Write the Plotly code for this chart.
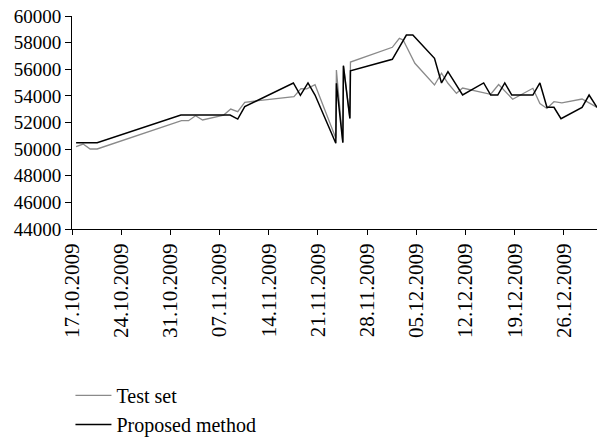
import plotly.graph_objects as go

# Test set (grey)
test_dates = [
    "2009-10-17 14:00", "2009-10-18 14:00", "2009-10-19 14:00", "2009-10-20 14:00",
    "2009-11-01 14:00", "2009-11-02 14:00", "2009-11-03 14:00", "2009-11-04 14:00",
    "2009-11-07 14:00", "2009-11-08 14:00", "2009-11-09 14:00", "2009-11-10 14:00",
    "2009-11-17 14:00", "2009-11-18 14:00", "2009-11-19 10:00", "2009-11-20 14:00",
    "2009-11-23 13:00", "2009-11-23 15:00", "2009-11-24 13:00", "2009-11-24 15:00",
    "2009-11-25 13:00", "2009-11-25 15:00",
    "2009-12-01 14:00", "2009-12-02 14:00", "2009-12-03 03:00", "2009-12-04 19:00",
    "2009-12-07 14:00", "2009-12-08 14:00", "2009-12-09 12:00", "2009-12-10 17:00",
    "2009-12-11 14:00", "2009-12-15 14:00", "2009-12-16 17:00", "2009-12-18 17:00",
    "2009-12-21 14:00", "2009-12-22 14:00", "2009-12-23 14:00", "2009-12-24 14:00",
    "2009-12-25 17:00", "2009-12-28 14:00", "2009-12-30 17:00",
]
test_values = [
    50180, 50380, 50010, 50010,
    52135, 52135, 52510, 52190,
    52560, 53010, 52810, 53520,
    53940, 54540, 54520, 54840,
    50810, 55940, 50530, 56320,
    52315, 56540,
    57650, 58325, 58200, 56450,
    54820, 55700, 54945, 54190,
    54590, 54120, 54855, 53750,
    54570, 53430, 53050, 53560,
    53480, 53765, 53140,
]

# Proposed method (black)
prop_dates = [
    "2009-10-17 14:00", "2009-10-20 14:00", "2009-11-01 12:00", "2009-11-08 12:00",
    "2009-11-09 14:00", "2009-11-10 14:00", "2009-11-17 12:00", "2009-11-18 12:00",
    "2009-11-19 14:00", "2009-11-20 14:00",
    "2009-11-23 13:00", "2009-11-23 15:00", "2009-11-24 13:00", "2009-11-24 15:00",
    "2009-11-25 13:00", "2009-11-25 15:00",
    "2009-12-01 14:00", "2009-12-03 14:00", "2009-12-04 12:00", "2009-12-07 14:00",
    "2009-12-08 14:00", "2009-12-09 12:00", "2009-12-11 14:00", "2009-12-14 14:00",
    "2009-12-15 14:00", "2009-12-16 14:00", "2009-12-17 14:00", "2009-12-18 14:00",
    "2009-12-21 14:00", "2009-12-22 14:00", "2009-12-23 14:00", "2009-12-24 14:00",
    "2009-12-25 14:00", "2009-12-28 14:00", "2009-12-29 14:00", "2009-12-30 17:00",
]
prop_values = [
    50480, 50480, 52560, 52560,
    52260, 53190, 54970, 54040,
    54970, 54065,
    50440, 54940, 50480, 56240,
    52310, 55890,
    56750, 58570, 58570, 56820,
    54970, 55820, 54065, 54970,
    54065, 54065, 54970, 54065,
    54065, 54970, 53140, 53140,
    52290, 53140, 54065, 53140,
]

x_tick0 = "2009-10-17"
x_end = "2009-12-30 17:00"
y_min, y_max, y_step = 44000, 60000, 2000

FONT = "Liberation Serif"

fig = go.Figure()
fig.add_trace(go.Scatter(
    x=test_dates, y=test_values, mode="lines", name="Test set",
    line=dict(color="#8a8a8a", width=1.3),
))
fig.add_trace(go.Scatter(
    x=prop_dates, y=prop_values, mode="lines", name="Proposed method",
    line=dict(color="#000000", width=1.5),
))

fig.update_layout(
    width=597, height=440,
    margin=dict(l=72, r=0, t=16, b=211, autoexpand=False),
    paper_bgcolor="white", plot_bgcolor="white",
    font=dict(family=FONT, size=19, color="#000000"),
    showlegend=True,
    legend=dict(
        x=0.118, xanchor="left", y=-0.69, yanchor="top",
        xref="container", yref="paper",
        font=dict(family=FONT, size=20),
        bgcolor="rgba(0,0,0,0)", tracegroupgap=0,
        itemwidth=36,
    ),
    xaxis=dict(
        type="date",
        range=[x_tick0, x_end],
        tick0=x_tick0, dtick=7 * 86400000,
        tickformat="%d.%m.%Y", tickangle=-90,
        showline=True, linecolor="#000000", linewidth=1,
        ticks="outside", ticklen=5, tickcolor="#000000",
        showgrid=False, zeroline=False,
        tickfont=dict(family=FONT, size=21),
    ),
    yaxis=dict(
        range=[y_min, y_max], dtick=y_step, tick0=y_min,
        showline=True, linecolor="#000000", linewidth=1,
        ticks="outside", ticklen=6, tickcolor="#000000",
        showgrid=False, zeroline=False,
        tickfont=dict(family=FONT, size=19),
        tickformat="d",
    ),
)

fig.write_html("out.html")
